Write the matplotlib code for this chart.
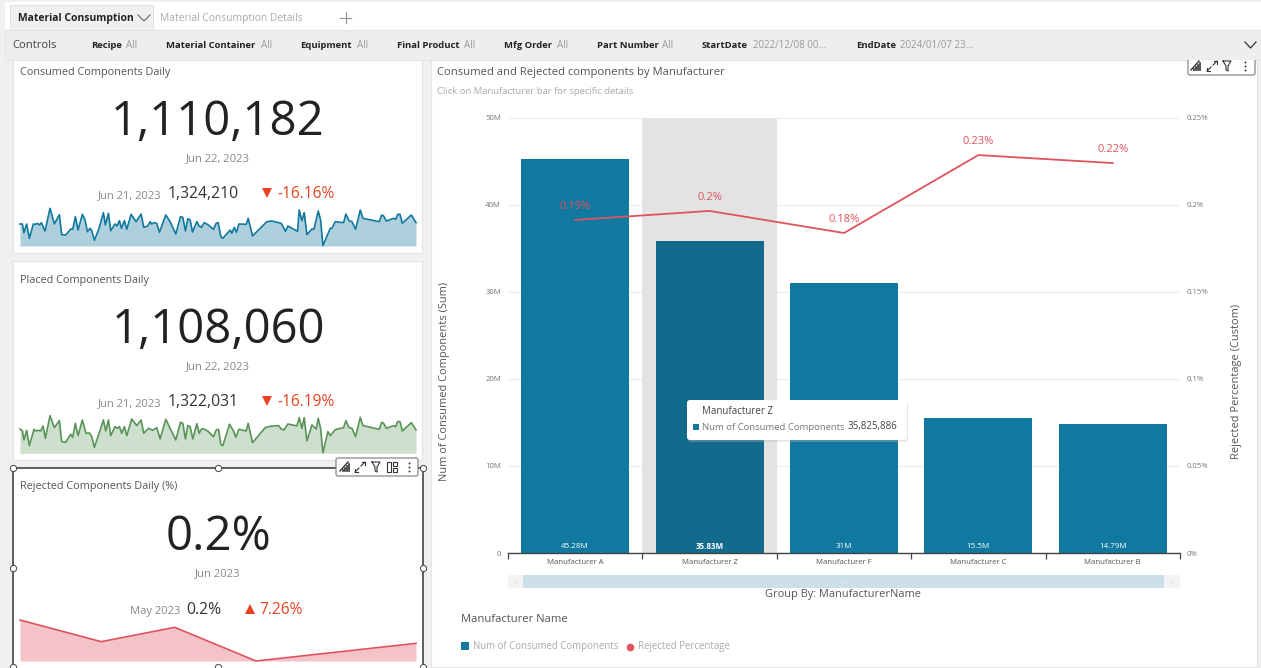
import matplotlib
matplotlib.use("Agg")
import matplotlib.pyplot as plt
from matplotlib.patches import Rectangle, FancyBboxPatch

W, H = 1261, 668
plt.rcParams['font.family'] = ['Open Sans', 'DejaVu Sans']

manufacturers = ["Manufacturer A", "Manufacturer Z", "Manufacturer F", "Manufacturer C", "Manufacturer B"]
consumed_m = [45.28, 35.83, 31, 15.5, 14.79]
consumed_labels = ["45.28M", "35.83M", "31M", "15.5M", "14.79M"]
rejected_pct = [0.1914, 0.1966, 0.1839, 0.2287, 0.2241]
rejected_labels = ["0.19%", "0.2%", "0.18%", "0.23%", "0.22%"]
left_ticks = [0, 10, 20, 30, 40, 50]
left_tick_labels = ["0", "10M", "20M", "30M", "40M", "50M"]
right_ticks = [0, 0.05, 0.1, 0.15, 0.2, 0.25]
right_tick_labels = ["0%", "0.05%", "0.1%", "0.15%", "0.2%", "0.25%"]

# sparkline values are relative heights
consumed_x = [60, 67, 72, 80, 88, 100, 106, 112, 118, 124,
              135, 150, 163, 178, 185, 197, 212, 218, 226, 234,
              247, 255, 262, 270, 275, 283, 297, 310, 316, 325,
              332, 345, 351, 358, 364, 373, 380, 393, 408, 423,
              431, 443, 450, 455, 462, 470, 478, 497, 510, 527,
              541, 548, 556, 563, 570, 577, 590, 597, 604, 612,
              625, 640, 648, 654, 662, 668, 690, 695, 702, 709,
              716, 738, 744, 757, 800, 815, 843, 856, 863, 892,
              897, 905, 912, 920, 935, 941, 954, 961, 968, 990,
              995, 1005, 1030, 1037, 1046, 1055, 1066, 1080, 1088, 1137,
              1144, 1150, 1158, 1180, 1186, 1192, 1199, 1206, 1233, 1247]
consumed_y = [66, 66, 40, 66, 23, 66, 65, 68, 63, 70,
              45, 113, 66, 94, 34, 33, 51, 50, 88, 48,
              95, 78, 43, 53, 46, 17, 53, 100, 63, 98,
              46, 66, 60, 76, 53, 76, 50, 95, 73, 96,
              56, 60, 73, 66, 70, 68, 41, 93, 73, 36,
              88, 86, 45, 82, 78, 42, 73, 60, 56, 70,
              63, 50, 68, 70, 28, 23, 48, 38, 56, 41,
              66, 65, 83, 30, 73, 75, 68, 44, 60, 44,
              108, 76, 100, 34, 51, 50, 105, 78, 1, 53,
              53, 73, 70, 96, 76, 73, 50, 108, 83, 73,
              93, 90, 75, 83, 80, 95, 95, 68, 93, 70]
placed_x = [60, 67, 72, 80, 88, 102, 108, 115, 122, 129,
            136, 150, 163, 178, 185, 197, 212, 218, 226, 234,
            247, 258, 268, 275, 283, 297, 310, 317, 325, 332,
            345, 352, 358, 365, 373, 380, 395, 410, 423, 431,
            445, 458, 470, 480, 497, 510, 527, 541, 548, 556,
            563, 570, 578, 590, 597, 604, 612, 625, 640, 648,
            655, 662, 668, 688, 700, 707, 716, 738, 744, 757,
            795, 810, 835, 843, 851, 863, 890, 897, 905, 912,
            920, 935, 948, 954, 961, 968, 983, 990, 1005, 1030,
            1037, 1046, 1055, 1066, 1080, 1088, 1137, 1144, 1150, 1158,
            1180, 1186, 1192, 1199, 1206, 1233, 1247]
placed_y = [73, 68, 40, 69, 23, 72, 67, 69, 67, 82,
            45, 113, 77, 98, 35, 33, 57, 48, 90, 53,
            100, 60, 61, 50, 18, 60, 100, 67, 100, 53,
            80, 75, 80, 60, 80, 53, 103, 83, 100, 60,
            75, 69, 77, 43, 102, 75, 40, 93, 90, 43,
            83, 80, 43, 89, 60, 73, 73, 65, 50, 70,
            72, 27, 23, 87, 67, 48, 72, 67, 90, 32,
            77, 81, 83, 73, 70, 88, 82, 107, 75, 107,
            37, 85, 73, 105, 75, 2, 65, 53, 71, 77,
            98, 77, 75, 50, 108, 83, 72, 93, 90, 75,
            83, 80, 95, 95, 67, 92, 70]
rejected_x = [0, 31, 59, 90, 151]
rejected_y = [123, 58, 101, 0, 53]

BAR = "#11789f"
BAR_DARK = "#126a8c"
RED = "#e0525f"
ORANGE = "#e8431f"


def px_axes(x0, y0, x1, y1, **kw):
    return fig.add_axes([x0 / W, 1 - y1 / H, (x1 - x0) / W, (y1 - y0) / H], **kw)


def txt(a, x, y, s, size, color="#444444", **kw):
    kw.setdefault("va", "center")
    return a.text(x, y, s, fontsize=size, color=color, **kw)


def spark(x0, y0, x1, y1, xs, ys, top, color, fill):
    a = px_axes(x0, y0, x1, y1)
    a.fill_between(xs, ys, 0, color=fill, lw=0)
    a.plot(xs, ys, color=color, lw=1.2, clip_on=False)
    a.set_xlim(min(xs), max(xs))
    a.set_ylim(0, top)
    a.axis("off")
    a.patch.set_alpha(0)


def toolbar(a, x0, x1, y0, y1, icons):
    a.add_patch(FancyBboxPatch((x0 + 2, y0 + 2), x1 - x0 - 4, y1 - y0 - 4, boxstyle="round,pad=2",
                               fc="white", ec="#888888", lw=0.9, zorder=5))
    col = "#333333"
    for kind, cx in icons:
        cy = (y0 + y1) / 2
        if kind == "chart":
            a.plot([cx - 5, cx + 3], [cy + 4, cy - 5], color=col, lw=1, zorder=6)
            for k, dx in enumerate([-2, 0, 2, 4]):
                a.plot([cx + dx, cx + dx], [cy + 4, cy + 3 - k * 2], color=col, lw=1.2, zorder=6)
        elif kind == "expand":
            a.plot([cx - 5, cx - 1], [cy + 5, cy + 1], color=col, lw=0.8, zorder=6)
            a.plot([cx + 1, cx + 5], [cy - 1, cy - 5], color=col, lw=0.8, zorder=6)
            a.plot([cx - 5, cx - 5, cx - 2], [cy + 2, cy + 5, cy + 5], color=col, lw=0.8, zorder=6)
            a.plot([cx + 2, cx + 5, cx + 5], [cy - 5, cy - 5, cy - 2], color=col, lw=0.8, zorder=6)
        elif kind == "funnel":
            a.plot([cx - 4, cx + 4, cx + 1, cx + 1, cx - 1, cx - 1, cx - 4],
                   [cy - 5, cy - 5, cy, cy + 5, cy + 4, cy, cy - 5], color=col, lw=0.8, zorder=6)
        elif kind == "layout":
            a.add_patch(Rectangle((cx - 5, cy - 5), 4, 10, fc="white", ec=col, lw=0.8, zorder=6))
            a.add_patch(Rectangle((cx + 1, cy - 5), 4, 4, fc="white", ec=col, lw=0.8, zorder=6))
            a.add_patch(Rectangle((cx + 1, cy + 1), 4, 4, fc="white", ec=col, lw=0.8, zorder=6))
        elif kind == "dots":
            a.plot([cx] * 3, [cy - 4, cy, cy + 4], "o", color=col, ms=1.4, mew=0, zorder=6)


fig = plt.figure(figsize=(W / 100, H / 100), dpi=100, facecolor="#f0f0f0")

# page background, tabs and filter bar
bg = fig.add_axes([0, 0, 1, 1])
bg.set_xlim(0, W)
bg.set_ylim(H, 0)
bg.axis("off")
bg.add_patch(Rectangle((5, 2), W - 5, 28, fc="white", lw=0))
bg.add_patch(Rectangle((10, 5), 143, 25, fc="#f0f0f0", ec="#dddddd", lw=0.6))
bg.add_patch(Rectangle((5, 30), W - 5, 30, fc="#eeeeee", ec="#e2e2e2", lw=0.6))
txt(bg, 18, 18.5, "Material Consumption", 7.5, "#222222", fontweight="bold")
bg.plot([138, 144, 150], [15, 21, 15], color="#666666", lw=0.8)
txt(bg, 160, 18.5, "Material Consumption Details", 7.4, "#aaaaaa")
bg.plot([340, 351], [17.5, 17.5], color="#999999", lw=0.9)
bg.plot([345.5, 345.5], [12, 23], color="#999999", lw=0.9)
txt(bg, 12, 45.5, "Controls", 8.1, "#444444")

filters = [("Recipe", 91, "All", 126), ("Material Container", 166, "All", 261), ("Equipment", 300, "All", 357),
           ("Final Product", 397, "All", 464), ("Mfg Order", 504, "All", 557), ("Part Number", 597, "All", 662),
           ("StartDate", 702, "2022/12/08 00...", 753), ("EndDate", 856, "2024/01/07 23...", 900)]
for name, nx, val, vx in filters:
    txt(bg, nx, 46, name, 6.8, "#222222", fontweight="bold")
    txt(bg, vx, 46, val, 7.0, "#999999")
bg.plot([1245, 1250.5, 1256], [42, 48, 42], color="#333333", lw=0.9)

# KPI cards
for y0, y1 in [(60, 253), (261, 460)]:
    bg.add_patch(Rectangle((13, y0), 409, y1 - y0, fc="white", ec="#e4e4e4", lw=0.8))
bg.add_patch(Rectangle((13, 468), 410, 210, fc="white", ec="#444444", lw=1.2))
bg.add_patch(Rectangle((431, 60), 826, 607, fc="white", ec="#e4e4e4", lw=0.8))

cards = [
    (72, "Consumed Components Daily", 122, "1,110,182", 159, "Jun 22, 2023",
     194, "Jun 21, 2023", 162, "1,324,210", 168, "-16.16%", 277, 267, "v"),
    (280, "Placed Components Daily", 330, "1,108,060", 367, "Jun 22, 2023",
     402, "Jun 21, 2023", 162, "1,322,031", 168, "-16.19%", 277, 267, "v"),
    (487, "Rejected Components Daily (%)", 537, "0.2%", 574, "Jun 2023",
     610, "May 2023", 180, "0.2%", 186, "7.26%", 259, 250, "^"),
]
for ty, title, by, big, dy, date, py, pdate, pdx, pval, pvx, chg, cx, tx, mk in cards:
    txt(bg, 20, ty, title, 7.8, "#555555")
    txt(bg, 218, by, big, 34, "#222222", ha="center")
    txt(bg, 218, dy, date, 8.1, "#888888", ha="center")
    txt(bg, pdx, py + 1.5, pdate, 8.0, "#888888", ha="right")
    txt(bg, pvx, py, pval, 11.3, "#333333")
    bg.plot([tx], [py - 1], marker=mk, color=ORANGE, ms=7, mew=0)
    txt(bg, cx, py, chg, 11.2, ORANGE)

spark(20, 206, 416, 246, consumed_x, consumed_y, 120, "#11789f", "#aed0dc")
spark(20, 413.3, 416, 453.3, placed_x, placed_y, 120, "#5a9358", "#cddfcd")
spark(20, 620, 416, 661, rejected_x, rejected_y, 123, RED, "#f4c3c7")

# main chart title and side text
txt(bg, 437, 72, "Consumed and Rejected components by Manufacturer", 8.1, "#555555")
txt(bg, 437, 92, "Click on Manufacturer bar for specific details", 6.8, "#aaaaaa")
txt(bg, 444, 381, "Num of Consumed Components (Sum)", 7.9, "#555555", rotation=90, ha="center")
txt(bg, 1236, 381, "Rejected Percentage (Custom)", 7.9, "#555555", rotation=90, ha="center")

ax = px_axes(508, 118, 1180, 553)
ax.patch.set_alpha(0)
ax.axvspan(0.5, 1.5, color="#e3e3e3", lw=0, zorder=1)
colors = [BAR, BAR_DARK, BAR, BAR, BAR]
pos = list(range(len(manufacturers)))
ax.bar(pos, consumed_m, width=0.805, color=colors, zorder=2)
for i, lab in enumerate(consumed_labels):
    ax.annotate(lab, (i, 0), xytext=(0, 4.5), textcoords="offset points", ha="center", va="center",
                fontsize=5.8, color="white", fontweight="bold" if i == 1 else "normal", zorder=3)
ax.set_xlim(-0.5, 4.5)
ax.set_ylim(0, 50)
ax.set_yticks(left_ticks, left_tick_labels)
ax.set_xticks([p - 0.5 for p in pos] + [4.5])
ax.set_xticklabels([])
ax.set_xticks(pos, manufacturers, minor=True)
ax.tick_params(axis="x", which="major", length=4, width=0.9, color="#444444")
ax.tick_params(axis="x", which="minor", length=0, labelsize=5.6, labelcolor="#555555", pad=4)
ax.tick_params(axis="y", length=0, labelsize=5.6, labelcolor="#777777", pad=5)
ax.grid(axis="y", color="#eeeeee", lw=0.9, zorder=0)
ax.set_axisbelow(True)
for s in ["top", "left", "right"]:
    ax.spines[s].set_visible(False)
ax.spines["bottom"].set_color("#444444")
ax.spines["bottom"].set_linewidth(1.0)

ax2 = ax.twinx()
ax2.plot(pos, rejected_pct, color=RED, lw=1.3, zorder=4)
for i, lab in enumerate(rejected_labels):
    ax2.annotate(lab, (i, rejected_pct[i]), xytext=(0, 10), textcoords="offset points", ha="center",
                 va="center", fontsize=8, color=RED, zorder=5)
ax2.set_ylim(0, 0.25)
ax2.set_yticks(right_ticks, right_tick_labels)
ax2.tick_params(axis="y", length=0, labelsize=5.6, labelcolor="#777777", pad=5)
for s in ax2.spines.values():
    s.set_visible(False)

# overlay: tooltip, scrollbar, legend, toolbars, handles
fg = fig.add_axes([0, 0, 1, 1], zorder=10)
fg.set_xlim(0, W)
fg.set_ylim(H, 0)
fg.axis("off")
fg.patch.set_alpha(0)
fg.add_patch(FancyBboxPatch((691, 404), 214, 35, boxstyle="round,pad=3", fc="#bbbbbb", alpha=0.35, lw=0))
fg.add_patch(FancyBboxPatch((690, 403), 214, 34, boxstyle="round,pad=3", fc="white", lw=0))
txt(fg, 702, 411.5, "Manufacturer Z", 7, "#444444")
fg.add_patch(Rectangle((693, 424), 6, 6, fc=BAR, lw=0))
txt(fg, 702, 427, "Num of Consumed Components", 6.8, "#777777")
txt(fg, 848, 427, "35,825,886", 7, "#444444")

fg.add_patch(Rectangle((508, 575), 672, 13, fc="#f3f3f3", lw=0))
fg.add_patch(Rectangle((523, 575), 641, 13, fc="#cddfe8", lw=0))
for hx in [515.5, 843, 1171.5]:
    fg.plot([hx - 2, hx + 2], [580.5, 580.5], color="#e4e4e4", lw=0.6)
    fg.plot([hx - 2, hx + 2], [582.5, 582.5], color="#e4e4e4", lw=0.6)
txt(fg, 843, 594, "Group By: ManufacturerName", 7.9, "#555555", ha="center")
txt(fg, 461, 619, "Manufacturer Name", 8.1, "#555555")
fg.add_patch(Rectangle((461, 642), 8, 8, fc=BAR, lw=0))
txt(fg, 473, 646, "Num of Consumed Components", 6.9, "#aaaaaa")
fg.plot([630], [646.5], "o", color=RED, ms=5.5, mew=0)
txt(fg, 638, 646, "Rejected Percentage", 6.9, "#aaaaaa")

toolbar(fg, 1188, 1255, 57, 75, [("chart", 1196), ("expand", 1212), ("funnel", 1227), ("dots", 1245)])
# the top of this toolbar slides under the filter bar
fg.add_patch(Rectangle((1180, 50), 81, 10, fc="#eeeeee", lw=0, zorder=7))
toolbar(fg, 336, 418, 458, 476, [("chart", 345), ("expand", 360), ("funnel", 376), ("layout", 392), ("dots", 409)])
for hx, hy in [(13, 468), (218, 468), (423, 468), (13, 568), (423, 568), (13, 667), (218, 667), (423, 667)]:
    fg.plot([hx], [hy], "o", mfc="white", mec="#444444", ms=4.5, mew=0.7, clip_on=False)

fig.savefig("out.png", dpi=100, facecolor=fig.get_facecolor())
